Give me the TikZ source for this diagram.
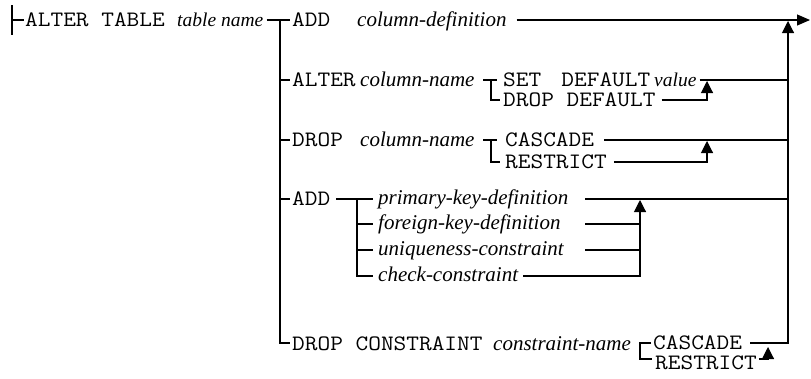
\documentclass[tikz,border=0pt]{standalone}
\usepackage{fontspec}
\usepackage{graphicx}
\setmainfont{Liberation Serif}
\usetikzlibrary{arrows.meta}
\newcommand\kwt[1]{\scalebox{1.12}[1]{#1}}
\tikzset{
  kw/.style={inner sep=0pt, anchor=base west, font=\fontsize{22}{24}\selectfont\ttfamily},
  var/.style={inner sep=0pt, anchor=base west, font=\fontsize{21}{24}\selectfont\itshape},
  ln/.style={line width=1.1pt},
  uparrow/.style={ln, -{Triangle[width=12pt,length=12pt]}},
  endarrow/.style={ln, -{Triangle[width=11pt,length=13pt]}},
}
\begin{document}
\begin{tikzpicture}[x=1pt,y=-1pt]
\useasboundingbox (0,0) rectangle (811,378);
\fill[white] (0,0) rectangle (811,378);
% rows
\coordinate (r1) at (0,20);
\coordinate (r2) at (0,80);
\coordinate (r2b) at (0,100);
\coordinate (r3) at (0,140);
\coordinate (r3b) at (0,162);
\coordinate (r4) at (0,199);
\coordinate (r4b) at (0,224);
\coordinate (r4c) at (0,250);
\coordinate (r4d) at (0,276);
\coordinate (r5) at (0,343);
\coordinate (r5b) at (0,359);
% columns
\coordinate (L) at (280,0);
\coordinate (R) at (788,0);
\coordinate (E) at (810,0);
\coordinate (B2) at (491,0);
\coordinate (B4) at (357,0);
\coordinate (A2) at (707,0);
\coordinate (A4) at (640,0);
\coordinate (B5) at (640,0);
\coordinate (A5) at (768,0);
\coordinate (S0) at (12,0);
\coordinate (P4) at (585,0);

% texts
\node[kw] (altertable) at (25,26) {\kwt{ALTER TABLE}};
\node[var, font=\fontsize{19.5}{22}\selectfont\itshape] (tname) at (177,26) {table name};
\node[kw] (add1) at (292,26) {\kwt{ADD}};
\node[var] (coldef) at (357,26) {column-definition};

\node[kw] (alter) at (292,86) {\kwt{ALTER}};
\node[var] (colname1) at (360,86) {column-name};
\node[kw] (setdef) at (503,86) {\kwt{SET\hspace{18pt}DEFAULT}};
\node[var, font=\fontsize{19.5}{22}\selectfont\itshape] (value) at (654,86) {value};
\node[kw] (dropdef) at (503,106) {\kwt{DROP DEFAULT}};

\node[kw] (drop) at (292,146) {\kwt{DROP}};
\node[var] (colname2) at (360,146) {column-name};
\node[kw] (cascade1) at (505,146) {\kwt{CASCADE}};
\node[kw] (restrict1) at (505,168.5) {\kwt{RESTRICT}};

\node[kw] (add2) at (292,205) {\kwt{ADD}};
\node[var] (pkey) at (378,204) {primary-key-definition};
\node[var] (fkey) at (378,229) {foreign-key-definition};
\node[var] (ucon) at (378,255) {uniqueness-constraint};
\node[var] (ccon) at (378,281) {check-constraint};

\node[kw] (dropc) at (292,350) {\kwt{DROP CONSTRAINT}};
\node[var] (cname) at (493,350) {constraint-name};
\node[kw] (cascade2) at (653,349) {\kwt{CASCADE}};
\node[kw] (restrict2) at (655,369) {\kwt{RESTRICT}};

% start tick
\draw[ln] (S0 |- 0,5) -- (S0 |- 0,35);
\draw[ln] (S0 |- r1) -- ([xshift=-1pt]altertable.west |- r1);
% top row
\draw[ln] ([xshift=3pt]tname.east |- r1) -- ([xshift=-2pt]add1.west |- r1);
\draw[endarrow] ([xshift=10pt]coldef.east |- r1) -- (E |- r1);
% left bus
\draw[ln] (L |- r1) -- (L |- r5) -- ([xshift=-2pt]dropc.west |- r5);
\draw[ln] (L |- r2) -- ([xshift=-2pt]alter.west |- r2);
\draw[ln] (L |- r3) -- ([xshift=-2pt]drop.west |- r3);
\draw[ln] (L |- r4) -- ([xshift=-2pt]add2.west |- r4);
% right bus
\draw[uparrow] ([xshift=8pt]cascade2.east |- r5) -- (R |- r5) -- ([yshift=-1pt]R |- r1);

% ALTER row
\draw[ln] ([xshift=-8pt]B2 |- r2) -- ([xshift=6pt]B2 |- r2);
\draw[ln] (B2 |- r2) -- (B2 |- r2b) -- ([xshift=-3pt]dropdef.west |- r2b);
\draw[ln] ([xshift=3pt]value.east |- r2) -- (R |- r2);
\draw[uparrow] ([xshift=6pt]dropdef.east |- r2b) -- (A2 |- r2b) -- ([yshift=-1pt]A2 |- r2);

% DROP row
\draw[ln] ([xshift=-8pt]B2 |- r3) -- ([xshift=6pt]B2 |- r3);
\draw[ln] (B2 |- r3) -- (B2 |- r3b) -- ([xshift=-5pt]restrict1.west |- r3b);
\draw[ln] ([xshift=10pt]cascade1.east |- r3) -- (R |- r3);
\draw[uparrow] ([xshift=7pt]restrict1.east |- r3b) -- (A2 |- r3b) -- ([yshift=-1pt]A2 |- r3);

% ADD constraints row
\draw[ln] ([xshift=6pt]add2.east |- r4) -- ([xshift=-5pt]pkey.west |- r4);
\draw[ln] (B4 |- r4) -- (B4 |- r4d) -- ([xshift=-5pt]ccon.west |- r4d);
\draw[ln] (B4 |- r4b) -- ([xshift=-5pt]fkey.west |- r4b);
\draw[ln] (B4 |- r4c) -- ([xshift=-5pt]ucon.west |- r4c);
\draw[ln] (P4 |- r4) -- (R |- r4);
\draw[ln] (P4 |- r4b) -- (A4 |- r4b);
\draw[ln] (P4 |- r4c) -- (A4 |- r4c);
\draw[uparrow] ([xshift=5pt]ccon.east |- r4d) -- (A4 |- r4d) -- ([yshift=-1pt]A4 |- r4);

% DROP CONSTRAINT row
\draw[ln] ([xshift=-2pt]cascade2.west |- r5) -- (B5 |- r5) -- (B5 |- r5b) -- ([xshift=-3pt]restrict2.west |- r5b);
\draw[uparrow] ([xshift=2pt]restrict2.east |- r5b) -- (A5 |- r5b) -- (A5 |- 0,347);
\end{tikzpicture}
\end{document}
